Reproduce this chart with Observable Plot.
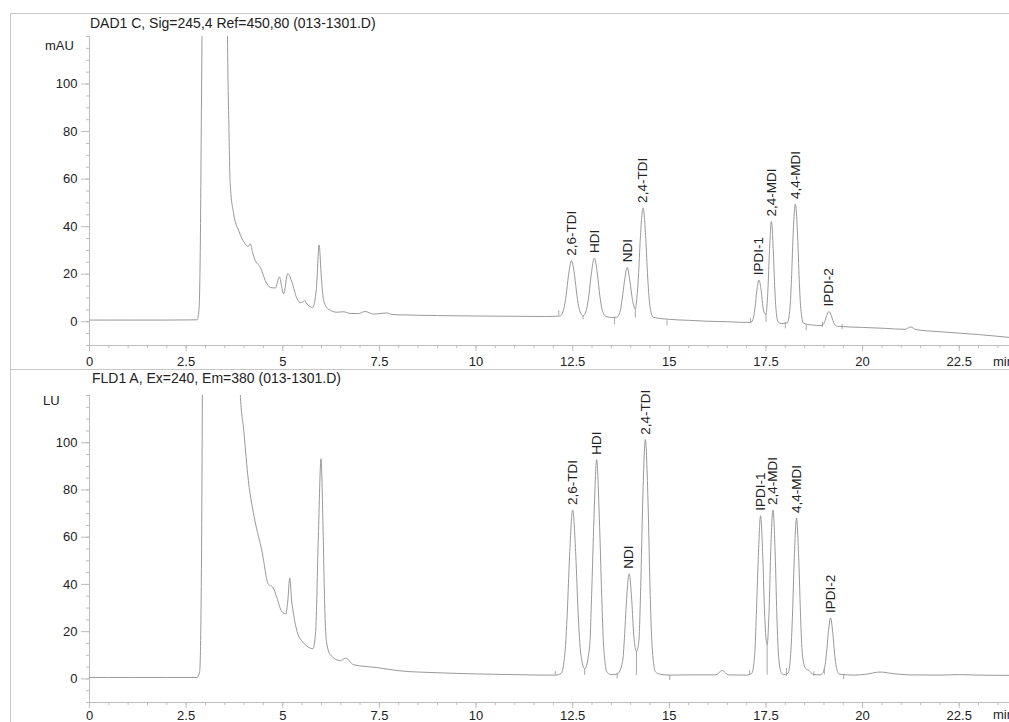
<!DOCTYPE html>
<html>
<head>
<meta charset="utf-8">
<script src="https://cdn.jsdelivr.net/npm/d3@7"></script>
<script src="https://cdn.jsdelivr.net/npm/@observablehq/plot@0.6"></script>
<style>
html,body{margin:0;padding:0;background:#fff;}
body{width:1009px;height:722px;overflow:hidden;position:relative;font-family:"Liberation Sans",Arial,Helvetica,sans-serif;color:#222;}
.abs{position:absolute;white-space:nowrap;}
.title{font-size:14px;line-height:14px;}
.unit{font-size:13px;line-height:13px;}
.line{position:absolute;background:#c8c8c8;}
</style>
</head>
<body>
<div id="top" class="abs" style="left:0;top:0;"></div>
<div id="bot" class="abs" style="left:0;top:370px;"></div>
<div class="abs title" style="left:90px;top:16px;">DAD1 C, Sig=245,4 Ref=450,80 (013-1301.D)</div>
<div class="abs title" style="left:92px;top:371px;">FLD1 A, Ex=240, Em=380 (013-1301.D)</div>
<div class="abs unit" style="left:45px;top:39px;">mAU</div>
<div class="abs unit" style="left:43px;top:394px;">LU</div>
<div class="abs unit" style="left:993px;top:355px;">min</div>
<div class="abs unit" style="left:993px;top:708px;">min</div>
<div class="line" style="left:10px;top:13px;width:999px;height:1px;"></div>
<div class="line" style="left:10px;top:13px;width:1px;height:709px;"></div>
<div class="line" style="left:10px;top:369px;width:999px;height:1px;"></div>
<script>
// ---- data ----
const xMajorTicks = [0, 2.5, 5, 7.5, 10, 12.5, 15, 17.5, 20, 22.5];
const xMinorTicks = [0,0.5,1,1.5,2,2.5,3,3.5,4,4.5,5,5.5,6,6.5,7,7.5,8,8.5,9,9.5,10,10.5,11,11.5,12,12.5,13,13.5,14,14.5,15,15.5,16,16.5,17,17.5,18,18.5,19,19.5,20,20.5,21,21.5,22,22.5,23,23.5];
const yMajorTicks = [0, 20, 40, 60, 80, 100];
const yMinorTicks = [-10,-5,0,5,10,15,20,25,30,35,40,45,50,55,60,65,70,75,80,85,90,95,100,105,110,115,120];

const peakNames = ["2,6-TDI","HDI","NDI","2,4-TDI","IPDI-1","2,4-MDI","4,4-MDI","IPDI-2"];
const dadPeakTimes = [12.47, 13.06, 13.91, 14.32, 17.32, 17.64, 18.26, 19.13];
const dadPeakHeights = [25.7, 26.8, 22.9, 47.9, 17.5, 42.2, 49.5, 4.3];
const fldPeakTimes = [12.50, 13.12, 13.96, 14.38, 17.36, 17.68, 18.29, 19.17];
const fldPeakHeights = [71.5, 92.8, 44.5, 101.3, 69.1, 71.5, 68.1, 25.8];

// DAD1 C trace: [time (min), signal (mAU)]
const dadTrace = [[0,0.7],[1,0.7],[2,0.7],[2.78,0.8],[2.83,4.6],[2.87,37],[2.89,79],[2.91,120],[2.95,260],[3.1,600],[3.35,600],[3.52,250],[3.57,120],[3.61,79],[3.64,58],[3.73,45.3],[3.86,38.3],[4.03,32.7],[4.10,31.6],[4.16,32.8],[4.22,29],[4.29,25.7],[4.42,22.9],[4.55,17.3],[4.68,14.4],[4.81,14.2],[4.91,18.9],[5.02,11.7],[5.13,20.3],[5.24,16.5],[5.37,9.6],[5.47,8.0],[5.56,8.8],[5.65,7.0],[5.77,6.0],[5.87,14],[5.94,32.3],[6.0,18],[6.06,8.8],[6.18,5.3],[6.40,4.0],[6.57,4.2],[6.74,3.5],[6.95,3.4],[7.13,4.3],[7.35,3.2],[7.69,3.7],[7.85,3.0],[8.04,2.9],[9,2.6],[10,2.4],[11,2.3],[11.8,2.2],[12.17,2.4],[12.27,5.4],[12.33,11.0],[12.39,19.3],[12.47,25.7],[12.55,19.3],[12.61,11.0],[12.67,5.3],[12.77,2.5],[12.86,5.3],[12.92,11.3],[12.98,20.0],[13.06,26.8],[13.14,20.0],[13.20,11.2],[13.26,5.2],[13.36,2.2],[13.50,1.8],[13.64,1.9],[13.73,4.5],[13.78,9.6],[13.84,17.1],[13.91,22.9],[13.98,17.1],[14.04,9.8],[14.12,5.4],[14.15,8.3],[14.20,18.8],[14.25,35.2],[14.32,47.9],[14.39,35.2],[14.44,18.8],[14.49,7.7],[14.58,1.9],[15.0,1.0],[15.5,0.6],[16,0.2],[16.5,0],[17.0,-0.3],[17.11,-0.25],[17.18,1.95],[17.22,6.3],[17.26,12.6],[17.32,17.5],[17.38,12.6],[17.42,6.35],[17.46,3.6],[17.50,3.1],[17.55,13.4],[17.59,29.7],[17.64,42.2],[17.69,29.7],[17.72,17.0],[17.76,5.1],[17.82,-0.2],[17.9,-0.75],[18.05,-0.5],[18.12,5.7],[18.16,17.9],[18.20,35.6],[18.26,49.5],[18.32,35.6],[18.36,17.9],[18.40,5.7],[18.47,-0.6],[18.7,-1.4],[18.92,-1.6],[18.99,-1.0],[19.03,0.5],[19.07,2.6],[19.13,4.3],[19.19,2.6],[19.23,0.5],[19.27,-1.0],[19.35,-1.9],[20,-2.4],[20.6,-2.8],[21.1,-3.2],[21.24,-2.2],[21.38,-3.3],[22,-4.2],[23,-5.4],[23.8,-6.6]];

// FLD1 A trace: [time (min), signal (LU)]
const fldTrace = [[0,0.6],[1,0.6],[2,0.6],[2.78,0.6],[2.85,3.1],[2.89,35.8],[2.92,121],[2.96,300],[3.2,800],[3.7,320],[3.90,121],[3.99,105.2],[4.11,84],[4.28,67],[4.46,54.2],[4.63,40],[4.74,38.9],[4.85,34.3],[4.97,28.6],[5.08,27.5],[5.13,33],[5.18,42.8],[5.23,33],[5.28,27.2],[5.37,20.1],[5.54,15.2],[5.78,12.8],[5.85,20],[5.92,60],[5.99,93.2],[6.04,65],[6.09,28],[6.13,15.9],[6.23,10.2],[6.49,7.7],[6.63,8.8],[6.83,6.0],[7.43,4.8],[8.04,3.4],[9,2.6],[10,2.1],[11,1.8],[11.8,1.6],[12.05,1.6],[12.20,2.3],[12.30,11.0],[12.36,28.2],[12.42,52.3],[12.50,71.5],[12.58,52.3],[12.64,28.2],[12.71,10.5],[12.81,4.3],[12.94,14],[12.99,35.7],[13.05,67.8],[13.12,92.8],[13.19,67.8],[13.25,35.7],[13.30,13.8],[13.39,2.8],[13.50,1.8],[13.65,2.0],[13.79,7.3],[13.84,17.6],[13.89,32.7],[13.96,44.5],[14.03,32.7],[14.08,18.5],[14.15,11.6],[14.21,15.6],[14.26,39],[14.31,74.1],[14.38,101.3],[14.45,74.1],[14.50,39],[14.55,15],[14.64,3.0],[14.75,2.0],[15.0,1.6],[15.5,1.7],[16.2,1.7],[16.37,3.6],[16.52,1.7],[17.0,1.6],[17.13,2.3],[17.21,10.7],[17.25,26.9],[17.30,50.6],[17.36,69.1],[17.42,50.7],[17.465,27.5],[17.53,14.5],[17.58,28.7],[17.62,52.4],[17.68,71.5],[17.74,52.4],[17.78,27.9],[17.82,11.0],[17.89,2.8],[17.95,1.8],[18.07,2.4],[18.14,10.7],[18.185,26.6],[18.23,49.9],[18.29,68.1],[18.35,49.9],[18.395,26.6],[18.44,10.7],[18.52,4.5],[18.62,3.5],[18.72,1.9],[18.9,1.7],[18.945,2.0],[19.02,4.95],[19.065,10.7],[19.11,19.2],[19.17,25.8],[19.23,19.2],[19.275,10.7],[19.32,4.95],[19.395,2.0],[19.8,1.6],[20.1,2.0],[20.45,2.9],[20.8,2.2],[21.2,1.7],[22,1.6],[22.5,1.8],[23,1.6],[23.8,1.5]];

// integration markers: [time, low, high]
const dadDrops = [[12.14,2.5,4.6],[12.77,0.8,2.5],[13.58,-1.3,1.8],[14.12,1.5,5.4],[14.94,-1.8,0.4],[17.10,-0.8,1.3],[17.50,-0.3,3.1],[18.00,-3,-0.3],[18.54,-3.7,-1.3],[18.96,-2.4,-0.3],[19.47,-3.3,-1.2]];
const fldDrops = [[12.05,1.4,3.1],[12.81,1.5,4.3],[13.65,0,2.4],[14.15,1.5,11.6],[15.01,-0.7,1.4],[17.08,1.4,3.4],[17.53,1.6,14.5],[18.03,1.0,4.4],[18.74,1.0,3.0],[19.01,1.7,4.4],[19.51,-0.3,1.8]];

// ---- drawing ----
const axisGray = "#bdbdbd";
function panel(trace, drops, times, heights, height, marginTop, marginBottom, labelPad) {
  return Plot.plot({
    width: 1009, height, marginLeft: 89, marginRight: 0, marginTop, marginBottom,
    style: {fontFamily: "'Liberation Sans', Arial, sans-serif", fontSize: "13px", background: "transparent", color: "#222", overflow: "hidden"},
    x: {domain: [0, 23.8], axis: null},
    y: {domain: [-10, 120], axis: null},
    marks: [
      Plot.ruleY([-10], {stroke: axisGray}),
      Plot.ruleX([0], {stroke: axisGray}),
      Plot.axisX({ticks: xMinorTicks, tickSize: 3, tickFormat: () => "", stroke: axisGray, label: null}),
      Plot.axisX({ticks: xMajorTicks, tickSize: 6, tickPadding: labelPad, tickFormat: d => String(d), stroke: axisGray, label: null}),
      Plot.axisY({ticks: yMinorTicks, tickSize: 3, tickFormat: () => "", stroke: axisGray, label: null}),
      Plot.axisY({ticks: yMajorTicks, tickSize: 8, tickPadding: 4, tickFormat: d => String(d), stroke: axisGray, label: null}),
      Plot.ruleX(drops, {x: d => d[0], y1: d => d[1], y2: d => d[2], stroke: "#a8a8a8"}),
      Plot.line(trace, {x: d => d[0], y: d => d[1], curve: "monotone-x", stroke: "#999", strokeWidth: 1, clip: true}),
      Plot.text(peakNames, {x: (d, i) => times[i], y: (d, i) => heights[i], text: d => d, rotate: -90, textAnchor: "start", dy: -5, fontSize: 13.5, fill: "#222"})
    ]
  });
}
document.getElementById("top").append(panel(dadTrace, dadDrops, dadPeakTimes, dadPeakHeights, 370, 36, 25, 5));
document.getElementById("bot").append(panel(fldTrace, fldDrops, fldPeakTimes, fldPeakHeights, 352, 25, 20, 2));
</script>
</body>
</html>
